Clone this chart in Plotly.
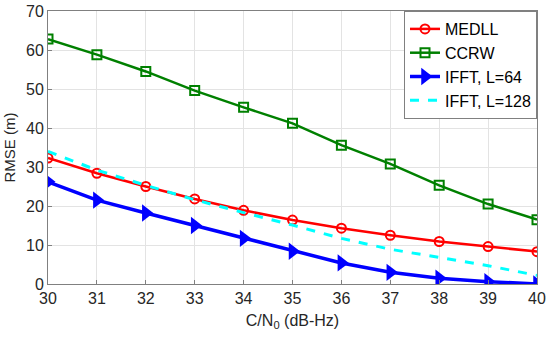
import plotly.graph_objects as go

cn0 = [30, 31, 32, 33, 34, 35, 36, 37, 38, 39, 40]
medll = [32.3, 28.4, 25.0, 21.8, 18.9, 16.4, 14.3, 12.5, 10.9, 9.6, 8.3]
ccrw = [62.8, 58.8, 54.5, 49.6, 45.3, 41.2, 35.6, 30.8, 25.3, 20.5, 16.5]
ifft64 = [26.2, 21.5, 18.2, 15.0, 11.7, 8.4, 5.4, 3.0, 1.5, 0.6, 0.0]
ifft128 = [34.0, 29.2, 25.3, 21.6, 18.3, 15.1, 11.7, 8.9, 6.8, 4.7, 2.2]

fig = go.Figure()
fig.add_trace(go.Scatter(x=cn0, y=medll, name="MEDLL", mode="lines+markers",
                         line=dict(color="#ff0000", width=2.5),
                         marker=dict(symbol="circle-open", size=9, color="#ff0000", line=dict(width=2))))
fig.add_trace(go.Scatter(x=cn0, y=ccrw, name="CCRW", mode="lines+markers",
                         line=dict(color="#008000", width=2.5),
                         marker=dict(symbol="square-open", size=9, color="#008000", line=dict(width=2))))
fig.add_trace(go.Scatter(x=cn0, y=ifft64, name="IFFT, L=64", mode="lines+markers",
                         line=dict(color="#0000ff", width=3.5),
                         marker=dict(symbol="triangle-right", size=15, color="#0000ff")))
fig.add_trace(go.Scatter(x=cn0, y=ifft128, name="IFFT, L=128", mode="lines",
                         line=dict(color="#00ffff", width=3, dash="dash")))

axis_common = dict(showline=True, linecolor="#808080", linewidth=1, mirror=True,
                   showgrid=True, gridcolor="#e3e3e3", gridwidth=1,
                   ticks="inside", ticklen=4, tickcolor="#808080",
                   tickfont=dict(size=16, color="#262626"), zeroline=False,
                   automargin=False)

fig.update_layout(
    width=550, height=340,
    margin=dict(l=48, r=13, t=11, b=56, autoexpand=False),
    paper_bgcolor="white", plot_bgcolor="white",
    font=dict(family="Liberation Sans, Arial, sans-serif", color="#262626"),
    xaxis=dict(range=[30, 40], dtick=1,
               title=dict(text="C/N<sub>0</sub> (dB-Hz)", font=dict(size=16), standoff=8),
               **axis_common),
    yaxis=dict(range=[0, 70], dtick=10,
               title=dict(text="RMSE (m)", font=dict(size=15), standoff=6),
               **axis_common),
    legend=dict(x=1, y=1, xanchor="right", yanchor="top",
                bgcolor="white", bordercolor="#808080", borderwidth=1,
                font=dict(size=16, color="#000000"), tracegroupgap=0,
                itemwidth=30),
    showlegend=True,
)

fig.write_html("out.html", config={"displayModeBar": False},
               post_script="document.body.style.margin='0';document.body.style.overflow='hidden';")
